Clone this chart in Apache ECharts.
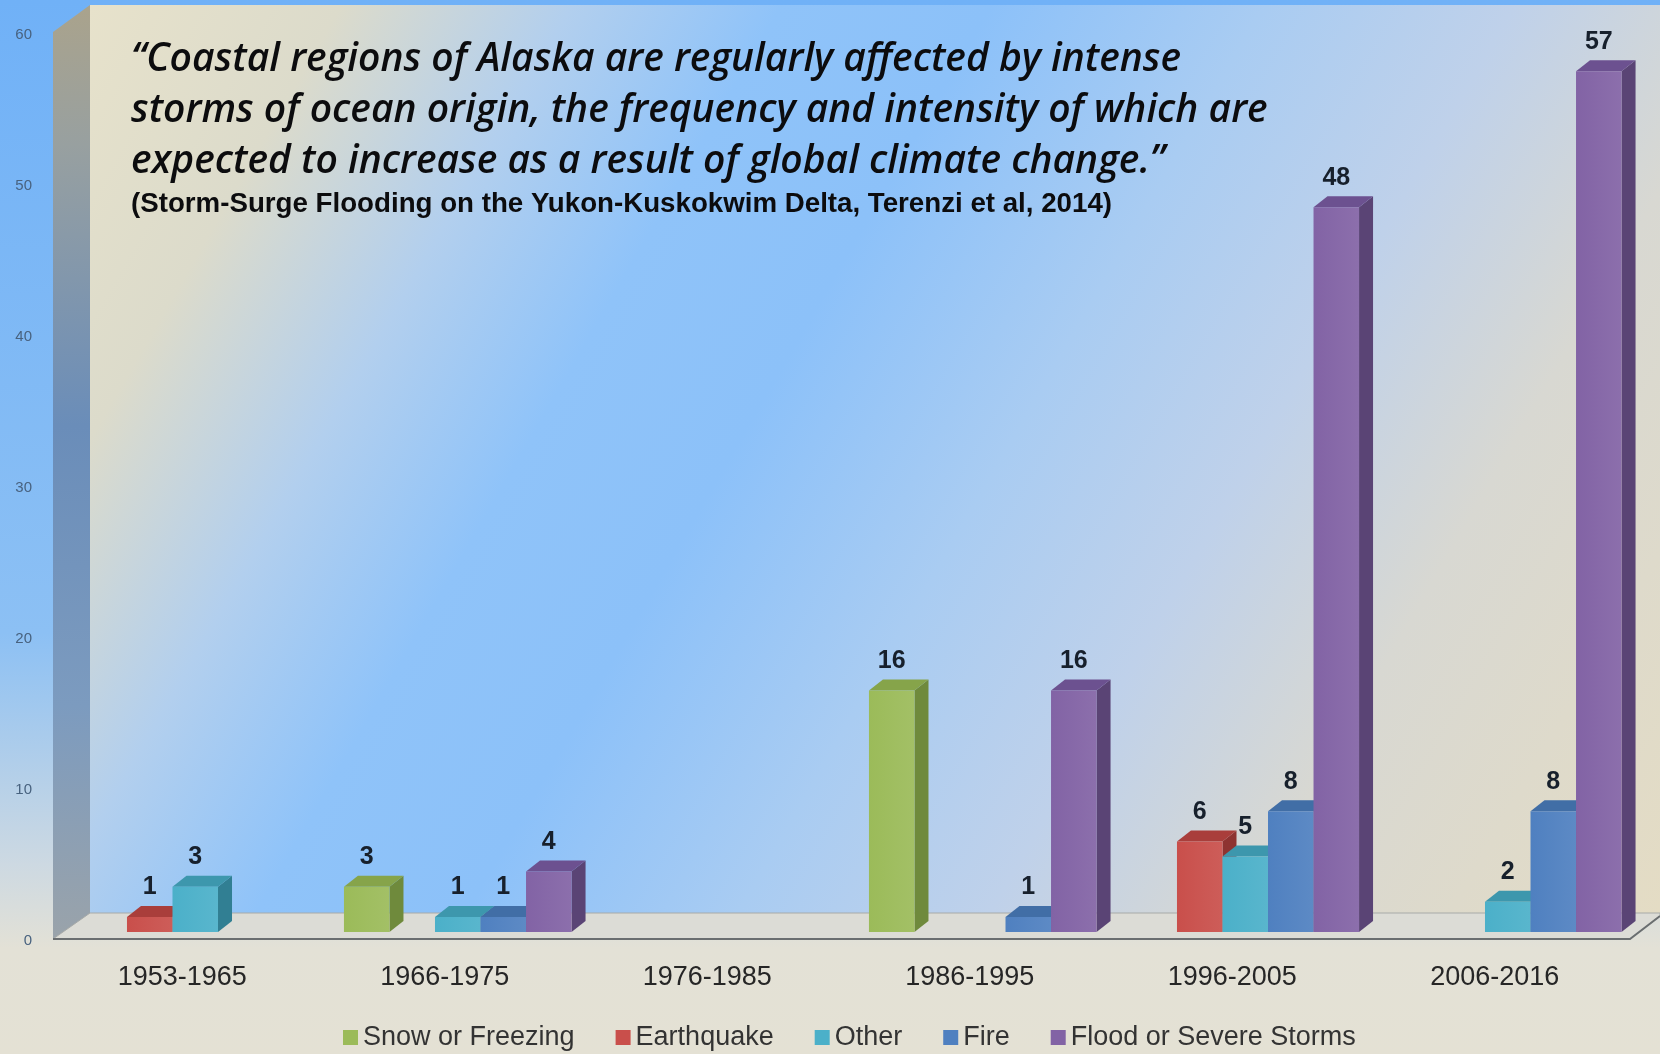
<!DOCTYPE html>
<html>
<head>
<meta charset="utf-8">
<title>Alaska disaster declarations by decade</title>
<script src="https://cdn.jsdelivr.net/npm/echarts@6/dist/echarts.min.js"></script>
<style>
  html, body { margin: 0; padding: 0; background: #e3e1d6; }
  #chart { width: 1660px; height: 1054px; }
</style>
</head>
<body>
<div id="chart"></div>
<script>
// categories + values (null = no bar drawn)
const periods = ['1953-1965', '1966-1975', '1976-1985', '1986-1995', '1996-2005', '2006-2016'];
const yTicks = [0, 10, 20, 30, 40, 50, 60];
const snowFreezing = [null, 3, null, 16, null, null];
const earthquake = [1, null, null, null, 6, null];
const other = [3, 1, null, null, 5, 2];
const fire = [null, 1, null, 1, 8, 8];
const floodStorms = [null, 4, null, 16, 48, 57];
const seriesNames = ['Snow or Freezing', 'Earthquake', 'Other', 'Fire', 'Flood or Severe Storms'];

const quoteLines = [
  '\u201cCoastal regions of Alaska are regularly affected by intense',
  'storms of ocean origin, the frequency and intensity of which are',
  'expected to increase as a result of global climate change.\u201d'
];
const sourceLine = '(Storm-Surge Flooding on the Yukon-Kuskokwim Delta, Terenzi et al, 2014)';

// front / side / top face colours
const faces = [
  ['#9bbb59', '#6f8a3c', '#86a44a'],
  ['#c94f4b', '#8e3331', '#a93e3b'],
  ['#4bb0c9', '#317f93', '#3d97ad'],
  ['#4f80c0', '#36598a', '#416ea6'],
  ['#8263a5', '#5a4475', '#6c5190']
];
const DX = 14, DY = 11;
const labelFont = '"Liberation Sans", sans-serif';

const chart = echarts.init(document.getElementById('chart'));

function renderBox(params, api) {
  const s = params.seriesIndex;
  const v = api.value(1);
  const cat = api.value(0);
  const band = api.size([1, 0])[0];
  const slot = band * 0.867 / 5;
  const cx = api.coord([cat, 0])[0];
  const base = api.coord([cat, 0])[1];
  const top = api.coord([cat, v])[1];
  const x0 = cx - 2.5 * slot + s * slot;
  const x1 = x0 + slot;
  const c = faces[s];
  return {
    type: 'group',
    children: [
      { type: 'polygon', shape: { points: [[x1, top], [x1 + DX, top - DY], [x1 + DX, base - DY], [x1, base]] },
        style: { fill: c[1] } },
      { type: 'polygon', shape: { points: [[x0, top], [x0 + DX, top - DY], [x1 + DX, top - DY], [x1, top]] },
        style: { fill: c[2] } },
      { type: 'rect', shape: { x: x0, y: top, width: slot, height: base - top },
        style: { fill: new echarts.graphic.LinearGradient(0, 0, 1, 0, [
          { offset: 0, color: c[0] }, { offset: 1, color: echarts.color.lift(c[0], 0.08) }]) } },
      { type: 'text', style: { text: String(v), x: x0 + slot / 2, y: top - DY - 6,
        align: 'center', verticalAlign: 'bottom',
        font: 'bold 25px ' + labelFont, fill: '#17202c' } }
    ]
  };
}

const allValues = [snowFreezing, earthquake, other, fire, floodStorms];
const series = allValues.map((vals, s) => ({
  name: seriesNames[s],
  type: 'custom',
  renderItem: renderBox,
  encode: { x: 0, y: 1 },
  itemStyle: { color: faces[s][0] },
  data: vals.map((v, i) => [i, v]).filter(d => d[1] != null),
  z: 5
}));

// backdrop: blue page, left side wall, back wall, floor
const backdrop = [
  { type: 'rect', shape: { x: 0, y: 0, width: 1660, height: 1054 }, z: -20,
    style: { fill: new echarts.graphic.LinearGradient(0, 0, 0, 1, [
      { offset: 0, color: '#70b1f7' }, { offset: 0.6, color: '#8cc0f4' },
      { offset: 0.82, color: '#cdd9e2' }, { offset: 0.9, color: '#e3e1d6' }, { offset: 1, color: '#e4e1d4' }]) } },
  { type: 'polygon', shape: { points: [[90, 5], [1660, 5], [1660, 914], [90, 914]] }, z: -19,
    style: { fill: new echarts.graphic.LinearGradient(0, 0, 1, 1, [
      { offset: 0, color: '#e7e2cb' }, { offset: 0.12, color: '#dcdbcb' },
      { offset: 0.23, color: '#b2cfee' }, { offset: 0.33, color: '#8fc3f9' },
      { offset: 0.43, color: '#8cc1f9' }, { offset: 0.56, color: '#a9ccf2' },
      { offset: 0.68, color: '#bfd1ea' }, { offset: 0.8, color: '#d8d8d2' },
      { offset: 1, color: '#e4dcc4' }]) } },
  { type: 'polygon', shape: { points: [[53, 32], [90, 5], [90, 914], [53, 939]] }, z: -18,
    style: { fill: new echarts.graphic.LinearGradient(0, 0, 0, 1, [
      { offset: 0, color: '#aaa38c' }, { offset: 0.15, color: '#98a0a0' },
      { offset: 0.45, color: '#6a8db9' }, { offset: 0.75, color: '#7c9bbf' },
      { offset: 1, color: '#9aa3aa' }]) } },
  { type: 'polygon', shape: { points: [[53, 939], [90, 913], [1660, 913], [1660, 916], [1630, 939]] }, z: -17,
    style: { fill: '#dcdcd6', stroke: '#a7aaa8', lineWidth: 1 } },
  { type: 'polyline', shape: { points: [[53, 939], [1630, 939], [1660, 916]] }, z: -16,
    style: { stroke: '#6a6e70', lineWidth: 2, fill: null } }
];

const titleText = quoteLines.map((line, k) => ({
  type: 'text', z: 20, left: 131, top: 40 + k * 51,
  style: { text: line, font: 'italic 600 39px "Open Sans", sans-serif', fill: '#0c0c0e' }
}));
titleText.push({
  type: 'text', z: 20, left: 131, top: 190,
  style: { text: sourceLine, font: 'bold 27.7px ' + labelFont, fill: '#0c0c0e' }
});

chart.setOption({
  animation: false,
  grid: { left: 64, right: 21, top: 26, bottom: 122 },
  legend: {
    data: seriesNames,
    left: 338, top: 1019,
    icon: 'rect', itemWidth: 15, itemHeight: 15, itemGap: 41,
    textStyle: { fontFamily: labelFont, fontSize: 27, color: '#333333' }
  },
  xAxis: {
    type: 'category',
    data: periods,
    axisLine: { show: false },
    axisTick: { show: false },
    axisLabel: { margin: 32, fontFamily: labelFont, fontSize: 27, color: '#262626', padding: [0, 26, 0, 0] }
  },
  yAxis: {
    type: 'value',
    min: yTicks[0], max: yTicks[yTicks.length - 1], interval: 10,
    splitLine: { show: false },
    axisLine: { show: false },
    axisTick: { show: false },
    axisLabel: { margin: 32, fontSize: 15, color: '#48627f', verticalAlign: 'top', lineHeight: 17 }
  },
  graphic: { elements: backdrop.concat(titleText) },
  series: series
});
</script>
</body>
</html>
